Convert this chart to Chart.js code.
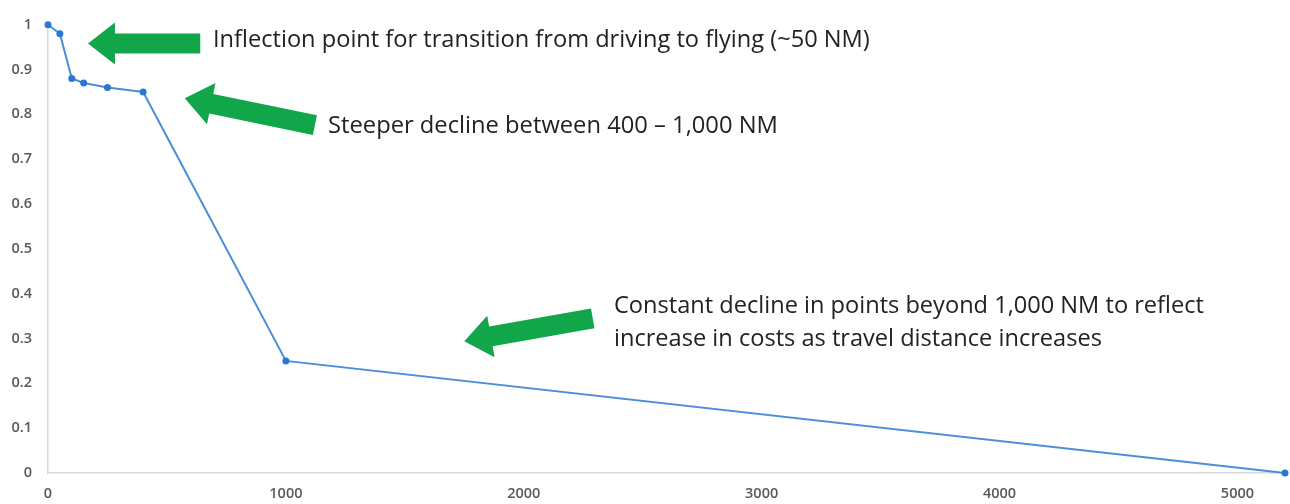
<!DOCTYPE html>
<html>
<head>
<meta charset="utf-8">
<style>
  html, body { margin: 0; padding: 0; background: #fff; }
  #wrap { width: 1290px; height: 504px; position: relative; }
</style>
<script src="https://cdn.jsdelivr.net/npm/chart.js@4.4.1/dist/chart.umd.min.js"></script>
</head>
<body>
<div id="wrap"><canvas id="chart-1"></canvas></div>
<script>
// distance (NM) vs. points factor
const distances = [0, 50, 100, 150, 250, 400, 1000, 5200];
const factors = [1, 0.98, 0.88, 0.87, 0.86, 0.85, 0.25, 0];

const xTicks = [0, 1000, 2000, 3000, 4000, 5000];
const yTicks = [0, 0.1, 0.2, 0.3, 0.4, 0.5, 0.6, 0.7, 0.8, 0.9, 1];

// callouts: arrow tip / tail in data units, text anchored in pixels next to the tail
const callouts = [
  {
    tip: { x: 168, y: 0.958 },
    tail: { x: 640, y: 0.958 },
    lines: ['Inflection point for transition from driving to flying (~50 NM)'],
    textX: 213, textY: 40, width: 657,
  },
  {
    tip: { x: 575, y: 0.836 },
    tail: { x: 1122, y: 0.776 },
    lines: ['Steeper decline between 400 \u2013 1,000 NM'],
    textX: 328, textY: 126, width: 450,
  },
  {
    tip: { x: 1750, y: 0.294 },
    tail: { x: 2290, y: 0.345 },
    lines: [
      'Constant decline in points beyond 1,000 NM to reflect',
      'increase in costs as travel distance increases',
    ],
    textX: 614, textY: 306, width: 590, lineGap: 33,
  },
];

const arrowPlugin = {
  id: 'arrows',
  afterDraw(chart) {
    const { ctx, scales } = chart;
    const xs = scales.x;
    const ys = scales.y;
    ctx.save();
    callouts.forEach((c) => {
      const tx = xs.getPixelForValue(c.tip.x);
      const ty = ys.getPixelForValue(c.tip.y);
      const bx = xs.getPixelForValue(c.tail.x);
      const by = ys.getPixelForValue(c.tail.y);
      const ang = Math.atan2(by - ty, bx - tx);
      const len = Math.hypot(bx - tx, by - ty);
      const headLen = 27;
      const headHalf = 21;
      const shaftHalf = 10;

      ctx.save();
      ctx.translate(tx, ty);
      ctx.rotate(ang);
      ctx.beginPath();
      ctx.moveTo(0, 0);
      ctx.lineTo(headLen, -headHalf);
      ctx.lineTo(headLen, -shaftHalf);
      ctx.lineTo(len, -shaftHalf);
      ctx.lineTo(len, shaftHalf);
      ctx.lineTo(headLen, shaftHalf);
      ctx.lineTo(headLen, headHalf);
      ctx.closePath();
      ctx.fillStyle = '#12a64a';
      ctx.fill();
      ctx.restore();

      // text, sized so the longest line fills its measured width
      ctx.fillStyle = '#222222';
      ctx.textBaseline = 'middle';
      ctx.textAlign = 'left';
      const longest = c.lines.reduce((a, b) => (b.length > a.length ? b : a));
      ctx.font = '20px "Open Sans"';
      const size = 20 * c.width / ctx.measureText(longest).width;
      ctx.font = size.toFixed(2) + 'px "Open Sans"';
      c.lines.forEach((line, i) => {
        ctx.fillText(line, c.textX, c.textY + i * (c.lineGap || 0));
      });
    });
    ctx.restore();
  },
};

const initChart1 = () => {
  const data = {
    datasets: [
      {
        label: 'Points factor',
        data: distances.map((d, i) => ({ x: d, y: factors[i] })),
        borderColor: '#4a8fd8',
        backgroundColor: '#2b78d2',
        borderWidth: 2,
        pointRadius: 3.5,
        pointBorderWidth: 0,
        tension: 0,
        clip: false,
      },
    ],
  };

  const tickFont = { family: '"Open Sans"', size: 14.5, weight: '600' };

  const config = {
    type: 'line',
    data: data,
    plugins: [arrowPlugin],
    options: {
      responsive: true,
      maintainAspectRatio: false,
      animation: false,
      layout: { padding: { top: 21, right: 5, left: 0, bottom: 0 } },
      plugins: {
        legend: { display: false },
        tooltip: { enabled: false },
      },
      scales: {
        x: {
          type: 'linear',
          min: 0,
          max: 5200,
          afterFit(scale) { scale.height = 31; },
          afterBuildTicks(scale) { scale.ticks = xTicks.map((v) => ({ value: v })); },
          grid: { display: false, drawTicks: false },
          border: { display: true, color: '#d9d9d9', width: 1.5 },
          ticks: {
            color: '#595959',
            font: tickFont,
            padding: 12,
            maxRotation: 0,
            callback: (v) => String(v),
          },
        },
        y: {
          min: 0,
          max: 1,
          afterFit(scale) { scale.width = 48; },
          afterBuildTicks(scale) { scale.ticks = yTicks.map((v) => ({ value: v })); },
          grid: { display: false, drawTicks: false },
          border: { display: true, color: '#d9d9d9', width: 1.5 },
          ticks: {
            color: '#595959',
            font: tickFont,
            padding: 16,
            callback: (v) => String(Math.round(v * 10) / 10),
          },
        },
      },
    },
  };

  return new Chart(document.getElementById('chart-1'), config);
};

const chart1 = initChart1();
</script>
</body>
</html>
